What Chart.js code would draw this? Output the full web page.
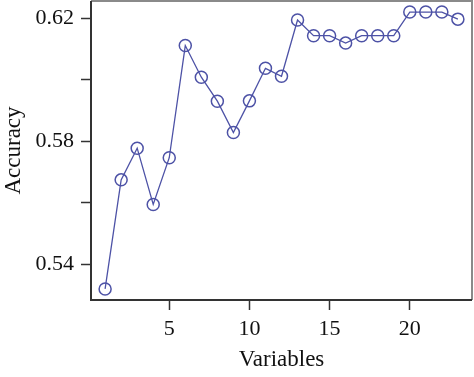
<!DOCTYPE html>
<html>
<head>
<meta charset="utf-8">
<script src="https://cdn.jsdelivr.net/npm/chart.js@4.4.1/dist/chart.umd.min.js"></script>
<style>
  html, body { margin: 0; padding: 0; background: #fff; }
  #wrap { width: 474px; height: 377px; }
</style>
</head>
<body>
<div id="wrap"><canvas id="chart" width="474" height="377"></canvas></div>
<script>
const variables = [1, 2, 3, 4, 5, 6, 7, 8, 9, 10, 11, 12, 13, 14, 15, 16, 17, 18, 19, 20, 21, 22, 23];
const accuracy = [0.532, 0.5675, 0.5778, 0.5595, 0.5747, 0.6112, 0.6009, 0.5931, 0.5829, 0.5932, 0.6038, 0.6012,
  0.6195, 0.6144, 0.6144, 0.612, 0.6144, 0.6144, 0.6144, 0.6221, 0.6221, 0.6221, 0.6198];
const xTicks = [5, 10, 15, 20];
const yTicks = [0.54, 0.56, 0.58, 0.60, 0.62];
const yLabels = ["0.54", "", "0.58", "", "0.62"];

const lineColor = "#4d52a6";
const serif = "'Liberation Serif', 'DejaVu Serif', serif";

const framePlugin = {
  id: "frame",
  afterDraw(chart) {
    const { ctx, chartArea: a } = chart;
    ctx.save();
    ctx.lineWidth = 2;
    ctx.strokeStyle = "#8a8a8a";
    ctx.beginPath();
    ctx.moveTo(a.left, a.top);
    ctx.lineTo(a.right, a.top);
    ctx.lineTo(a.right, a.bottom);
    ctx.stroke();
    ctx.strokeStyle = "#333";
    ctx.beginPath();
    ctx.moveTo(a.left, a.top);
    ctx.lineTo(a.left, a.bottom);
    ctx.lineTo(a.right, a.bottom);
    ctx.stroke();
    ctx.restore();
  }
};

new Chart(document.getElementById("chart"), {
  type: "line",
  data: {
    datasets: [{
      data: variables.map((v, i) => ({ x: v, y: accuracy[i] })),
      borderColor: lineColor,
      borderWidth: 1.3,
      pointRadius: 6,
      pointBorderWidth: 1.5,
      pointBorderColor: lineColor,
      pointBackgroundColor: "rgba(0,0,0,0)",
      tension: 0
    }]
  },
  options: {
    responsive: false,
    animation: false,
    layout: { autoPadding: false, padding: { top: 1, right: 2 } },
    plugins: { legend: { display: false }, tooltip: { enabled: false } },
    scales: {
      x: {
        type: "linear",
        min: 0.12,
        max: 23.88,
        afterBuildTicks: (scale) => { scale.ticks = xTicks.map((v) => ({ value: v })); },
        afterFit: (scale) => {
          scale.height = 77;
          scale.paddingLeft = 0;
          scale.paddingRight = 0;
        },
        grid: { drawOnChartArea: false, tickLength: 10, tickColor: "#333", tickWidth: 1.5 },
        border: { display: false },
        ticks: { color: "#111", padding: 6, font: { family: serif, size: 22 }, maxRotation: 0 },
        title: { display: true, text: "Variables", color: "#111", font: { family: serif, size: 23 }, padding: { bottom: 3 } }
      },
      y: {
        min: 0.5284,
        max: 0.6257,
        afterBuildTicks: (scale) => { scale.ticks = yTicks.map((v) => ({ value: v })); },
        afterFit: (scale) => {
          scale.width = 91;
          scale.paddingTop = 0;
          scale.paddingBottom = 0;
        },
        grid: { drawOnChartArea: false, tickLength: 10, tickColor: "#333", tickWidth: 1.5 },
        border: { display: false },
        ticks: {
          color: "#111",
          padding: 7,
          font: { family: serif, size: 22 },
          callback: (value, index) => yLabels[index]
        },
        title: { display: true, text: "Accuracy", color: "#111", font: { family: serif, size: 23 }, padding: { top: 0 } }
      }
    }
  },
  plugins: [framePlugin]
});
</script>
</body>
</html>
